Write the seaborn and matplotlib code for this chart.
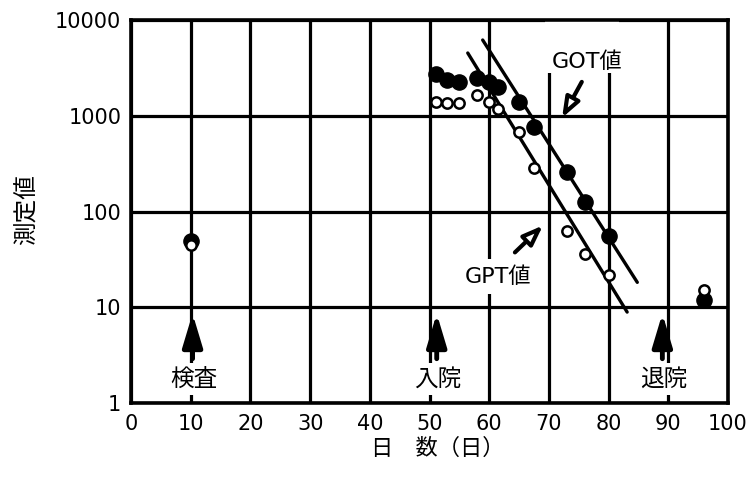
import numpy as np
import pandas as pd
import matplotlib
matplotlib.use("Agg")
import matplotlib.pyplot as plt
from matplotlib.patches import Rectangle
from matplotlib.ticker import NullLocator
import seaborn as sns

# 検査値の推移 (GOT / GPT)
days = [51, 53, 55, 58, 60, 61.5, 65, 67.5, 73, 76, 80]
got = [2740, 2370, 2260, 2490, 2260, 2000, 1400, 770, 260, 127, 56]
gpt = [1400, 1365, 1365, 1650, 1400, 1180, 680, 287, 63, 36, 21.5]

first_day = [10]
first_got = [49]
first_gpt = [45]
last_day = [96]
last_got = [12]
last_gpt = [15]

# 減衰を示す直線 (両端)
got_line_days = [58.9, 84.8]
got_line_vals = [6190, 18.2]
gpt_line_days = [56.4, 83.1]
gpt_line_vals = [4530, 8.9]

x_ticks = [0, 10, 20, 30, 40, 50, 60, 70, 80, 90, 100]
y_ticks = [1, 10, 100, 1000, 10000]
y_tick_labels = ["1", "10", "100", "1000", "10000"]

# 経過の目印 (日, ラベル)
events = [(10.3, "検査"), (51.2, "入院"), (89.0, "退院")]

sns.set_theme(style="white")
plt.rcParams["font.family"] = ["DejaVu Sans", "Noto Sans CJK JP"]
plt.rcParams["text.color"] = "black"

got_df = pd.DataFrame({"day": days + first_day + last_day,
                       "value": got + first_got + last_got})
gpt_df = pd.DataFrame({"day": days + first_day + last_day,
                       "value": gpt + first_gpt + last_gpt})
got_line = pd.DataFrame({"day": got_line_days, "value": got_line_vals})
gpt_line = pd.DataFrame({"day": gpt_line_days, "value": gpt_line_vals})

fig, ax = plt.subplots(figsize=(7.49, 4.78), dpi=100)
fig.subplots_adjust(left=0.175, right=0.972, top=0.958, bottom=0.157)
fig.patch.set_facecolor("white")

sns.lineplot(data=got_line, x="day", y="value", color="black", lw=2.4,
             ax=ax, zorder=3)
sns.lineplot(data=gpt_line, x="day", y="value", color="black", lw=2.4,
             ax=ax, zorder=3)
sns.scatterplot(data=got_df, x="day", y="value", s=120, color="black",
                edgecolor="black", linewidth=1, ax=ax, zorder=4)
sns.scatterplot(data=gpt_df, x="day", y="value", s=55, color="white",
                edgecolor="black", linewidth=1.8, ax=ax, zorder=5)

ax.set_yscale("log")
ax.set_xlim(0, 100)
ax.set_ylim(1, 10000)
ax.set_xticks(x_ticks)
ax.set_xticklabels([str(t) for t in x_ticks])
ax.set_yticks(y_ticks)
ax.set_yticklabels(y_tick_labels)
ax.yaxis.set_minor_locator(NullLocator())
ax.tick_params(axis="both", length=0, labelsize=15, colors="black",
               labelcolor="black")
ax.tick_params(axis="x", pad=8)
ax.tick_params(axis="y", pad=7)
ax.set_xlabel("")
ax.set_ylabel("")

ax.grid(True, which="major", color="black", lw=2.3)
for sp in ax.spines.values():
    sp.set_visible(True)
    sp.set_color("black")
    sp.set_linewidth(2.6)
    sp.set_zorder(6)

# 見出しの背景
ax.add_patch(Rectangle((69.3, 2800), 12.5, 10000 - 2800, facecolor="white",
                       edgecolor="none", zorder=2.2))
ax.text(76.4, 3650, "GOT値", ha="center", va="center", fontsize=16,
        color="black", zorder=3)
ax.text(61.5, 21, "GPT値", ha="center", va="center", fontsize=16,
        color="black", zorder=3,
        bbox=dict(facecolor="white", edgecolor="none", pad=5))

pointer = dict(arrowstyle="-|>,head_length=1.2,head_width=0.45",
               facecolor="white", edgecolor="black", lw=3,
               shrinkA=0, shrinkB=0, mutation_scale=10)
ax.annotate("", xy=(72.2, 953), xytext=(75.5, 2260), arrowprops=pointer,
            zorder=4)
ax.annotate("", xy=(69.0, 71.5), xytext=(64.3, 37.4), arrowprops=pointer,
            zorder=4)

for d, label in events:
    ax.annotate("", xy=(d, 8.6), xytext=(d, 2.9),
                arrowprops=dict(arrowstyle="-|>,head_length=1.0,head_width=0.3",
                                color="black", lw=3.5, shrinkA=0, shrinkB=0,
                                mutation_scale=20),
                zorder=4)
    ax.text(d + 0.2, 1.78, label, ha="center", va="center", fontsize=17,
            color="black", zorder=4,
            bbox=dict(facecolor="white", edgecolor="none", pad=3))

ax.text(-0.175, 0.504, "測定値", rotation=90, ha="center", va="center",
        fontsize=17, color="black", transform=ax.transAxes)
ax.text(0.513, -0.118, "日　数（日）", ha="center", va="center",
        fontsize=16, color="black", transform=ax.transAxes)

fig.savefig("out.png", dpi=100, facecolor="white")
